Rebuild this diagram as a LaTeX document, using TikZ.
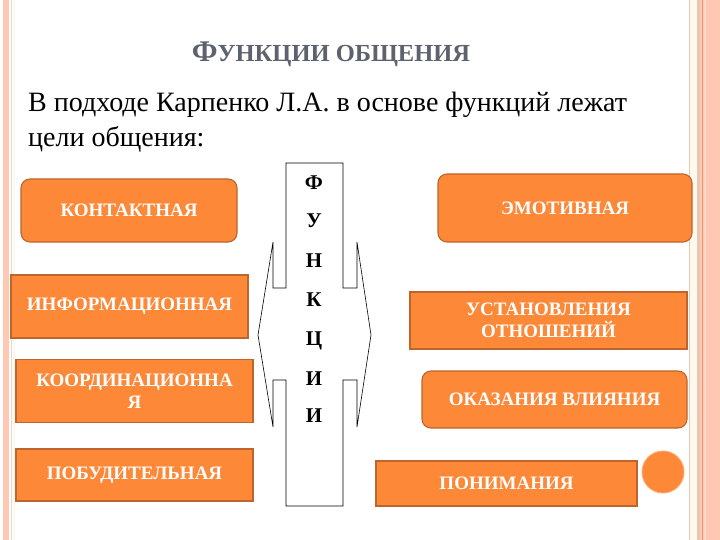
\documentclass[tikz,border=0pt]{standalone}
\usepackage{fontspec}
\setmainfont{Liberation Serif}
\definecolor{boxfill}{RGB}{252,136,56}
\definecolor{boxline}{RGB}{190,100,45}
\definecolor{titlegray}{RGB}{92,98,110}
\definecolor{stripe}{RGB}{255,200,178}
\definecolor{stripedark}{RGB}{240,150,115}
\definecolor{cream}{RGB}{255,248,236}
\definecolor{tan}{RGB}{230,200,180}
\tikzset{
  fbox/.style={draw=boxline, fill=boxfill, line width=1.1pt, text=white, align=center,
    inner sep=0pt, font=\bfseries\fontsize{19}{22}\selectfont},
  rbox/.style={fbox, rounded corners=9pt},
  letter/.style={font=\bfseries\fontsize{21}{22}\selectfont, text=black, inner sep=0pt},
}
\begin{document}
\begin{tikzpicture}[x=1pt,y=-1pt]
\useasboundingbox (0,0) rectangle (720,540);
\fill[white] (0,0) rectangle (720,540);
% left border stripes
\fill[stripe] (3,0) rectangle (9,540);
\fill[tan!70] (10.5,0) rectangle (11.5,540);
\fill[cream] (13,0) rectangle (15,540);
% right border stripes
\fill[tan] (688.5,0) rectangle (690,540);
\fill[cream] (690,0) rectangle (697,540);
\fill[tan] (697,0) rectangle (699.5,540);
\fill[stripe] (699.5,0) rectangle (720,540);
\fill[stripedark] (701.5,0) rectangle (703,540);
\fill[stripe!70] (704,0) rectangle (706,540);

% title
\node[text=titlegray, font=\bfseries, anchor=base, inner sep=0pt] (title) at (331,62)
  {{\fontsize{30}{31}\selectfont Ф}{\fontsize{24.5}{27}\selectfont УНКЦИИ ОБЩЕНИЯ}};
% body text
\node[anchor=base west, inner sep=0pt, font=\fontsize{28}{35}\selectfont] (line1) at (28,112)
  {В подходе Карпенко Л.А. в основе функций лежат};
\node[anchor=base west, inner sep=0pt, font=\fontsize{28}{35}\selectfont] (line2) at (28,147)
  {цели общения:};

% central double arrow / column
\draw[black, line width=0.6pt, fill=white]
  (286,163) -- (343,163) -- (343,288) -- (357,288) -- (357,242) -- (371,335)
  -- (357,427) -- (357,380) -- (343,380) -- (343,506) -- (286,506) -- (286,380)
  -- (273,380) -- (273,427) -- (258,335) -- (273,242) -- (273,288) -- (286,288) -- cycle;
\node[letter] (l1) at (314,183) {Ф};
\node[letter] (l2) at (314,221) {У};
\node[letter] (l3) at (314,261) {Н};
\node[letter] (l4) at (314,300) {К};
\node[letter] (l5) at (314,341) {Ц};
\node[letter] (l6) at (314,379) {И};
\node[letter] (l7) at (314,416) {И};

% left boxes
\node[rbox, minimum width=216pt, minimum height=63pt] (kont) at (129,210.5) {КОНТАКТНАЯ};
\node[fbox, minimum width=237pt, minimum height=63pt] (inf) at (129.5,306.5) {ИНФОРМАЦИОННАЯ};
\node[fbox, minimum width=237pt, minimum height=63pt] (koord) at (134.5,391) {КООРДИНАЦИОННА\\Я};
\node[fbox, minimum width=237pt, minimum height=52pt] (pob) at (134.5,475) {ПОБУДИТЕЛЬНАЯ};

% right boxes
\node[rbox, minimum width=254pt, minimum height=68pt] (emo) at (565,208) {ЭМОТИВНАЯ};
\node[fbox, minimum width=277pt, minimum height=57pt] (ust) at (548.5,320.5) {УСТАНОВЛЕНИЯ\\ОТНОШЕНИЙ};
\node[rbox, minimum width=265pt, minimum height=57pt] (okaz) at (554.5,399.5) {ОКАЗАНИЯ ВЛИЯНИЯ};
\node[fbox, minimum width=261pt, minimum height=45pt] (pon) at (506.5,483.5) {ПОНИМАНИЯ};

\node[circle, fill=boxfill, draw=boxfill!70, line width=1pt, minimum size=42pt, inner sep=0pt] (dot) at (663,472) {};
\end{tikzpicture}
\end{document}
